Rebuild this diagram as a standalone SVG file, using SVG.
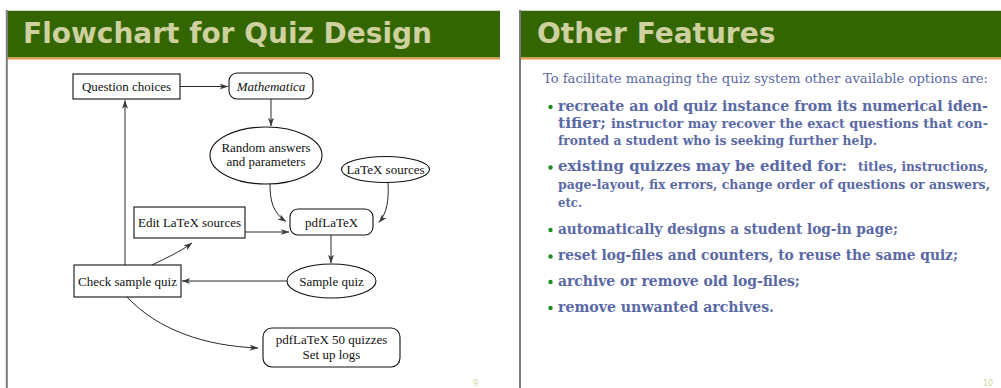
<svg xmlns="http://www.w3.org/2000/svg" width="1001" height="388" viewBox="0 0 1001 388">
  <style>
    .frame { stroke: #7a7a7a; stroke-width: 2; fill: none; }
    .topline { stroke: #d0d0d0; stroke-width: 1; }
    .band { fill: #336600; }
    .rule { fill: #e89a4c; }
    .title { font-family: "DejaVu Sans", "Open Sans", sans-serif; font-weight: bold; font-size: 28px; fill: #cfd0a0; }
    .pageno { font-family: "DejaVu Sans", sans-serif; font-size: 8px; fill: #d2d6a6; }
    .box { fill: #ffffff; stroke: #111111; stroke-width: 1.1; }
    .lbl { font-family: "Liberation Serif", "Times New Roman", serif; font-size: 13px; fill: #111111; text-anchor: middle; }
    .it { font-style: italic; }
    .conn { fill: none; stroke: #2a2a2a; stroke-width: 1; }
    .body { font-family: "DejaVu Serif", "Liberation Serif", serif; font-stretch: condensed; fill: #5a69a5; }
    .intro { font-size: 12.5px; }
    .big { font-size: 14.5px; font-weight: bold; }
    .small { font-size: 12.5px; font-weight: bold; }
    .dot { fill: #1e8c1e; }
  </style>
  <defs>
    <marker id="arr" viewBox="0 0 10 8" refX="9.5" refY="4" markerWidth="9" markerHeight="7" markerUnits="userSpaceOnUse" orient="auto">
      <path d="M0,0.6 L10,4 L0,7.4 L2.6,4 Z" fill="#3a3a3a"/>
    </marker>
  </defs>

  <rect width="1001" height="388" fill="#ffffff"/>

  <!-- slide frames -->
  <line class="topline" x1="7" y1="10.5" x2="500" y2="10.5"/>
  <line class="topline" x1="520" y1="10.5" x2="1001" y2="10.5"/>
  <rect class="band" x="7.5" y="11" width="492.5" height="46.5"/>
  <rect class="band" x="521" y="11" width="480" height="46.5"/>
  <rect class="rule" x="7.5" y="57.5" width="492.5" height="2"/>
  <rect class="rule" x="521" y="57.5" width="480" height="2"/>
  <line class="frame" x1="6.8" y1="10" x2="6.8" y2="388"/>
  <line class="frame" x1="520" y1="10" x2="520" y2="388"/>

  <text class="title" x="23" y="43">Flowchart for Quiz Design</text>
  <text class="title" x="537" y="43">Other Features</text>
  <text class="pageno" x="473" y="386">9</text>
  <text class="pageno" x="983" y="386">10</text>

  <!-- flowchart connectors -->
  <g id="connectors">
    <line class="conn" x1="180" y1="86.5" x2="228" y2="86.5" marker-end="url(#arr)"/>
    <line class="conn" x1="271" y1="99" x2="271" y2="126" marker-end="url(#arr)"/>
    <path class="conn" d="M270,184 C270,201 273,213 286,221.5" marker-end="url(#arr)"/>
    <path class="conn" d="M388,182.5 C389,200 387,213 379,222.5" marker-end="url(#arr)"/>
    <line class="conn" x1="245" y1="232" x2="289" y2="232" marker-end="url(#arr)"/>
    <line class="conn" x1="331" y1="235" x2="331" y2="263" marker-end="url(#arr)"/>
    <line class="conn" x1="287" y1="281" x2="182" y2="281" marker-end="url(#arr)"/>
    <line class="conn" x1="125" y1="265" x2="125" y2="100.5" marker-end="url(#arr)"/>
    <path class="conn" d="M152,265 C166,258 180,252 192,243" marker-end="url(#arr)"/>
    <path class="conn" d="M127,297 C158,330 205,346 258,348" marker-end="url(#arr)"/>
  </g>

  <!-- flowchart nodes -->
  <g id="question-choices">
    <rect class="box" x="73" y="74" width="107" height="25"/>
    <text class="lbl" x="126.5" y="91">Question choices</text>
  </g>
  <g id="mathematica">
    <rect class="box" x="229" y="73" width="84" height="26" rx="8"/>
    <text class="lbl it" x="271" y="91">Mathematica</text>
  </g>
  <g id="random-answers">
    <ellipse class="box" cx="266" cy="155.5" rx="56" ry="28.5"/>
    <text class="lbl" x="266" y="152">Random answers</text>
    <text class="lbl" x="266" y="166">and parameters</text>
  </g>
  <g id="latex-sources">
    <ellipse class="box" cx="385.5" cy="169.5" rx="44" ry="13"/>
    <text class="lbl" x="385.5" y="173.5">LaTeX sources</text>
  </g>
  <g id="edit-latex">
    <rect class="box" x="134" y="207" width="111" height="31"/>
    <text class="lbl" x="189.5" y="227">Edit LaTeX sources</text>
  </g>
  <g id="pdflatex">
    <rect class="box" x="290" y="209" width="83" height="26" rx="8"/>
    <text class="lbl" x="331.5" y="227">pdfLaTeX</text>
  </g>
  <g id="sample-quiz">
    <ellipse class="box" cx="331.5" cy="281" rx="44.5" ry="17"/>
    <text class="lbl" x="331.5" y="285.5">Sample quiz</text>
  </g>
  <g id="check-sample">
    <rect class="box" x="74" y="265" width="107" height="32"/>
    <text class="lbl" x="127.5" y="285.5">Check sample quiz</text>
  </g>
  <g id="pdflatex-50">
    <rect class="box" x="263" y="328" width="137" height="39" rx="9"/>
    <text class="lbl" x="331.5" y="344">pdfLaTeX 50 quizzes</text>
    <text class="lbl" x="331.5" y="358.5">Set up logs</text>
  </g>

  <!-- feature list -->
  <g id="features" class="body">
    <text class="intro" x="543" y="82.5" textLength="445" lengthAdjust="spacingAndGlyphs">To facilitate managing the quiz system other available options are:</text>

    <circle class="dot" cx="550.5" cy="107" r="2.2"/>
    <text class="big" x="558" y="110.5" textLength="430" lengthAdjust="spacingAndGlyphs">recreate an old quiz instance from its numerical iden-</text>
    <text class="big" x="558" y="128" textLength="48" lengthAdjust="spacingAndGlyphs">tifier;</text>
    <text class="small" x="611" y="128" textLength="377" lengthAdjust="spacingAndGlyphs">instructor may recover the exact questions that con-</text>
    <text class="small" x="558" y="145" textLength="319" lengthAdjust="spacingAndGlyphs">fronted a student who is seeking further help.</text>

    <circle class="dot" cx="550.5" cy="167.5" r="2.2"/>
    <text class="big" x="558" y="171" textLength="289" lengthAdjust="spacingAndGlyphs">existing quizzes may be edited for:</text>
    <text class="small" x="858" y="171" textLength="130" lengthAdjust="spacingAndGlyphs">titles, instructions,</text>
    <text class="small" x="558" y="189" textLength="432" lengthAdjust="spacingAndGlyphs">page-layout, fix errors, change order of questions or answers,</text>
    <text class="small" x="558" y="207" textLength="24" lengthAdjust="spacingAndGlyphs">etc.</text>

    <circle class="dot" cx="550.5" cy="230" r="2.2"/>
    <text class="big" x="558" y="233.5" textLength="340" lengthAdjust="spacingAndGlyphs">automatically designs a student log-in page;</text>

    <circle class="dot" cx="550.5" cy="256.5" r="2.2"/>
    <text class="big" x="558" y="259.5" textLength="400" lengthAdjust="spacingAndGlyphs">reset log-files and counters, to reuse the same quiz;</text>

    <circle class="dot" cx="550.5" cy="282" r="2.2"/>
    <text class="big" x="558" y="285.5" textLength="242" lengthAdjust="spacingAndGlyphs">archive or remove old log-files;</text>

    <circle class="dot" cx="550.5" cy="308" r="2.2"/>
    <text class="big" x="558" y="311.5" textLength="216" lengthAdjust="spacingAndGlyphs">remove unwanted archives.</text>
  </g>
</svg>
